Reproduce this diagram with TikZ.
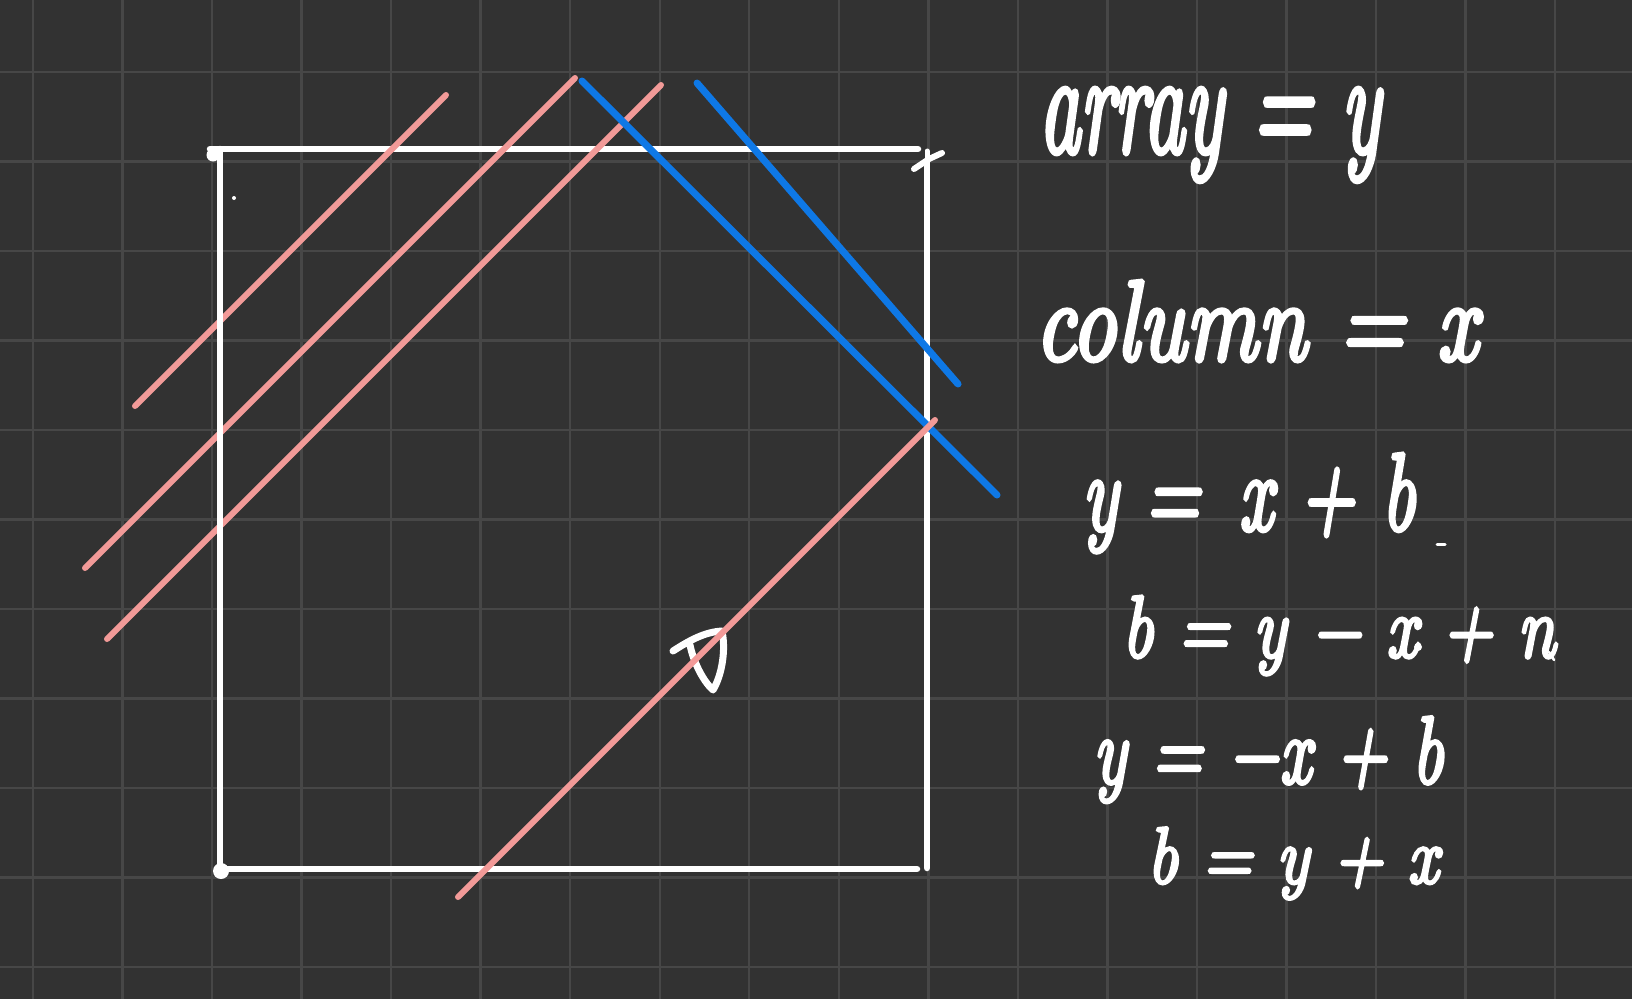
\documentclass[tikz,border=0pt]{standalone}
\usepackage{graphicx}
\usepackage{fontspec}
\newfontfamily\handfont{lmroman10-italic.otf}[FakeBold=4]
\definecolor{bgc}{HTML}{323232}
\definecolor{gridc}{HTML}{474747}
\definecolor{pinkc}{HTML}{F29A98}
\definecolor{bluec}{HTML}{0E78E6}
\newcommand\fitbox[3]{\scalebox{1}[#2]{\resizebox{#1}{!}{#3}}}
\begin{document}
\begin{tikzpicture}[x=1pt,y=-1pt,
  gridline/.style={gridc,line width=2.4pt},
  wline/.style={white,line width=6.5pt,line cap=round},
  pline/.style={pinkc,line width=6pt,line cap=round},
  bline/.style={bluec,line width=7pt,line cap=round},
  hand/.style={text=white,inner sep=0pt,anchor=base west,font=\handfont},
  scribble/.style={white,line cap=round,line join=round}]
\fill[bgc] (0,0) rectangle (1632,999);
\useasboundingbox (0,0) rectangle (1632,999);
% grid
\foreach \k in {0,...,17} \draw[gridline] ({33+89.53*\k},0) -- ({33+89.53*\k},999);
\foreach \k in {0,...,10} \draw[gridline] (0,{72+89.5*\k}) -- (1632,{72+89.5*\k});
% corners
\coordinate (tl) at (210,149);
\coordinate (tr) at (918,149);
\coordinate (lt) at (220,149);
\coordinate (lb) at (220,869);
\coordinate (br) at (917,869);
\coordinate (rt) at (927,166);
\coordinate (rb) at (927,868);
% box edges
\draw[wline] (tl) -- (tr);
\draw[wline] (lb) -- (br);
\draw[wline] (rt) -- (rb);
\draw[scribble,line width=6pt] (914,169) -- (929,159) -- (942,153);
\draw[scribble,line width=5pt] (927,151) -- (927,168);
% hand scribble (under the pink line)
\draw[scribble,line width=7pt] (673,651) .. controls (690,640) and (705,632) .. (722,631)
  .. controls (726,650) and (722,675) .. (713,690)
  .. controls (702,680) and (693,660) .. (690,645);
% diagonal lines
\coordinate (p1a) at (135,406); \coordinate (p1b) at (446,95);
\coordinate (p2a) at (85,568);  \coordinate (p2b) at (575,78);
\coordinate (p3a) at (107,639); \coordinate (p3b) at (661,85);
\coordinate (p4a) at (458,897); \coordinate (p4b) at (935,420);
\coordinate (b1a) at (582,81);  \coordinate (b1b) at (997,495);
\coordinate (b2a) at (697,83);  \coordinate (b2b) at (958,384);
\draw[pline] (p1a) -- (p1b);
\draw[pline] (p2a) -- (p2b);
\draw[pline] (p3a) -- (p3b);
\draw[bline] (b1a) -- (b1b);
\draw[bline] (b2a) -- (b2b);
\draw[pline] (p4a) -- (p4b);
\draw[wline] (lt) -- (lb);
\fill[white] (213,155) circle (6.5);
\fill[white] (221,871) circle (8);
\fill[white] (234,198) circle (2);
% text
\node[hand] (t1) at (1039,152) {\fitbox{341pt}{1.8}{array = y}};
\node[hand] (t2) at (1035,360) {\fitbox{442pt}{1.3}{column = x}};
\node[hand] (t3) at (1082,530) {\fitbox{333pt}{1.5}{y =\, x + b}};
\node[hand] (t4) at (1122,657) {\fitbox{433pt}{1.3}{b = y − x + n}};
\node[hand] (t5) at (1093,783) {\fitbox{350pt}{1.4}{y = −x + b}};
\node[hand] (t6) at (1147,883) {\fitbox{291pt}{1.2}{b = y + x}};
% stray marks
\draw[scribble,line width=3pt] (1437,544) -- (1445,544);
\fill[white] (1418,647) circle (4);
\draw[scribble,line width=2.5pt] (1549,652) -- (1554,660);
\end{tikzpicture}
\end{document}
